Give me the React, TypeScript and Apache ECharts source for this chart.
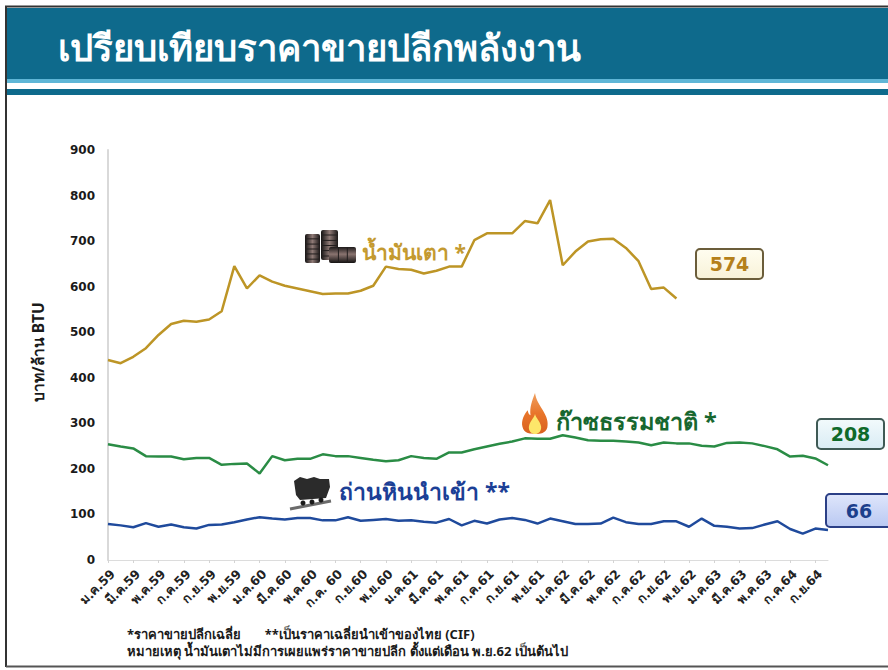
import React, { useEffect, useRef } from "react";
import * as echarts from "echarts";

const categories = [
  "ม.ค.59","ก.พ.59","มี.ค.59","เม.ย.59","พ.ค.59","มิ.ย.59","ก.ค.59","ส.ค.59","ก.ย.59","ต.ค.59","พ.ย.59","ธ.ค.59",
  "ม.ค.60","ก.พ.60","มี.ค.60","เม.ย.60","พ.ค.60","มิ.ย.60","ก.ค. 60","ส.ค.60","ก.ย.60","ต.ค.60","พ.ย.60","ธ.ค.60",
  "ม.ค.61","ก.พ.61","มี.ค.61","เม.ย.61","พ.ค.61","มิ.ย.61","ก.ค.61","ส.ค.61","ก.ย.61","ต.ค.61","พ.ย.61","ธ.ค.61",
  "ม.ค.62","ก.พ.62","มี.ค.62","เม.ย.62","พ.ค.62","มิ.ย.62","ก.ค.62","ส.ค.62","ก.ย.62","ต.ค.62","พ.ย.62","ธ.ค.62",
  "ม.ค.63","ก.พ.63","มี.ค.63","เม.ย.63","พ.ค.63","มิ.ย.63","ก.ค.64","ส.ค.64","ก.ย.64","ต.ค.64",
];
const oil = [
  439,432,446,465,494,518,525,523,528,546,645,596,625,611,602,596,590,584,585,585,591,602,644,639,637,629,635,644,644,702,
  717,717,717,744,739,790,647,677,699,704,705,685,656,595,598,574,
];
const gas = [
  254,249,245,228,227,227,221,224,224,209,211,212,190,228,219,222,222,232,228,228,224,220,217,219,228,224,222,236,236,243,
  249,255,260,267,266,266,274,269,263,262,262,260,258,252,258,256,256,251,249,257,258,256,250,243,227,229,223,208,
];
const coal = [
  79,76,72,81,73,78,72,69,77,78,83,89,94,91,89,92,92,87,87,94,86,88,90,86,87,84,82,90,76,86,
  80,89,92,88,80,91,85,79,79,80,93,83,79,79,85,85,73,91,75,73,69,70,78,85,68,58,69,66,
];
const yTicks = { min: 0, max: 900, interval: 100 };
const seriesNames = ["น้ำมันเตา", "ก๊าซธรรมชาติ", "ถ่านหินนำเข้า"];
const titleText = "เปรียบเทียบราคาขายปลีกพลังงาน";
const yName = "บาท/ล้าน BTU";
const note1 = "*ราคาขายปลีกเฉลี่ย       **เป็นราคาเฉลี่ยนำเข้าของไทย (CIF)";
const note2 = "หมายเหตุ น้ำมันเตาไม่มีการเผยแพร่ราคาขายปลีก ตั้งแต่เดือน พ.ย.62 เป็นต้นไป";

const FONT = '"Noto Sans", "DejaVu Sans", sans-serif';
const NUMFONT = '"DejaVu Sans", "Noto Sans", sans-serif';

echarts.graphic.registerShape(
  "flameIcon",
  echarts.graphic.extendPath(
    "M50 0 C54 18 66 28 78 42 C92 58 98 70 94 84 C88 98 70 100 50 100 C30 100 10 98 5 82 C0 66 12 52 24 42 C26 50 30 54 34 54 C30 36 40 18 50 0 Z",
    {}
  )
);
echarts.graphic.registerShape(
  "flameInner",
  echarts.graphic.extendPath(
    "M50 0 C56 20 82 36 88 62 C92 84 72 100 50 100 C28 100 8 84 12 62 C18 36 44 20 50 0 Z",
    {}
  )
);

function barrel(x: number, y: number, w: number, h: number, horizontal = false) {
  const grad = horizontal
    ? new echarts.graphic.LinearGradient(0, 0, 0, 1, [
        { offset: 0, color: "#1d1a1a" },
        { offset: 0.45, color: "#8a7470" },
        { offset: 1, color: "#141212" },
      ])
    : new echarts.graphic.LinearGradient(0, 0, 1, 0, [
        { offset: 0, color: "#141212" },
        { offset: 0.5, color: "#8f7a76" },
        { offset: 1, color: "#1a1717" },
      ]);
  const ribs = horizontal
    ? [0.33, 0.66].map((f) => ({
        type: "rect",
        shape: { x: x + w * f, y, width: 1, height: h },
        style: { fill: "#221e1e" },
      }))
    : [0.15, 0.33, 0.5, 0.67, 0.85].map((f) => ({
        type: "rect",
        shape: { x, y: y + h * f, width: w, height: 1 },
        style: { fill: "#221e1e" },
      }));
  return [
    { type: "rect", shape: { x, y, width: w, height: h, r: 2 }, style: { fill: grad } },
    ...ribs,
  ];
}

function badge(x: number, y: number, w: number, h: number, label: string, fillTop: string, fillBottom: string, stroke: string, color: string) {
  return [
    {
      type: "rect",
      shape: { x, y, width: w, height: h, r: 4 },
      style: {
        fill: new echarts.graphic.LinearGradient(0, 0, 0, 1, [
          { offset: 0, color: fillTop },
          { offset: 1, color: fillBottom },
        ]),
        stroke,
        lineWidth: 2,
      },
    },
    {
      type: "text",
      x: x + w / 2,
      y: y + h / 2,
      style: {
        text: label,
        fill: color,
        font: `bold 19px ${NUMFONT}`,
        align: "center",
        verticalAlign: "middle",
      },
    },
  ];
}

export default function App() {
  const ref = useRef<HTMLDivElement>(null);
  useEffect(() => {
    const chart = echarts.init(ref.current!, undefined, { renderer: "svg" });
    const lineCommon = { type: "line", showSymbol: false, symbol: "none", smooth: false, z: 3 };
    chart.setOption({
      animation: false,
      backgroundColor: "#ffffff",
      grid: { left: 108, right: 888 - 828, top: 150, bottom: 670 - 560, containLabel: false },
      xAxis: {
        type: "category",
        data: categories,
        boundaryGap: false,
        axisLine: { lineStyle: { color: "#dcdcdc", width: 1 } },
        axisTick: { interval: 1, length: 3, lineStyle: { color: "#d4d4d4" } },
        axisLabel: {
          interval: 1,
          rotate: 45,
          color: "#222222",
          fontFamily: NUMFONT,
          fontWeight: "bold",
          fontSize: 12.5,
          margin: 7,
          verticalAlign: "top",
        },
      },
      yAxis: {
        type: "value",
        ...yTicks,
        splitLine: { show: false },
        axisLine: { show: true, lineStyle: { color: "#d9d9d9", width: 2 } },
        axisTick: { show: false },
        axisLabel: {
          color: "#1a1a1a",
          fontFamily: NUMFONT,
          fontWeight: "bold",
          fontSize: 12,
          margin: 13,
        },
      },
      series: [
        { ...lineCommon, name: seriesNames[0], data: oil, lineStyle: { color: "#bd9526", width: 2.5 } },
        { ...lineCommon, name: seriesNames[1], data: gas, lineStyle: { color: "#2a8c45", width: 2.5 } },
        { ...lineCommon, name: seriesNames[2], data: coal, lineStyle: { color: "#1f4a9c", width: 2.5 } },
      ],
      graphic: [
        // frame
        { type: "line", shape: { x1: 6, y1: 6, x2: 6, y2: 667 }, style: { stroke: "#333333", lineWidth: 2 } },
        { type: "line", shape: { x1: 6, y1: 666.5, x2: 888, y2: 666.5 }, style: { stroke: "#555555", lineWidth: 2 } },
        { type: "line", shape: { x1: 5, y1: 6.5, x2: 888, y2: 6.5 }, style: { stroke: "#333333", lineWidth: 2 } },
        // header
        { type: "rect", shape: { x: 7, y: 8, width: 881, height: 71 }, style: { fill: "#0e6a8c" } },
        { type: "rect", shape: { x: 7, y: 79, width: 881, height: 4 }, style: { fill: "#5fb6d6" } },
        { type: "rect", shape: { x: 7, y: 85, width: 881, height: 4 }, style: { fill: "#ffffff" } },
        { type: "rect", shape: { x: 7, y: 89, width: 881, height: 6 }, style: { fill: "#0e6a8c" } },
        {
          type: "text",
          x: 58,
          y: 47,
          style: { text: titleText, fill: "#ffffff", font: `bold 36.5px ${FONT}`, align: "left", verticalAlign: "middle" },
        },
        // y-axis name
        {
          type: "text",
          x: 38,
          y: 352,
          rotation: Math.PI / 2,
          style: { text: yName, fill: "#1a1a1a", font: `bold 15.5px ${FONT}`, align: "center", verticalAlign: "middle" },
        },
        // oil icon
        ...barrel(305, 234, 15, 29),
        ...barrel(321, 230, 17, 30),
        ...barrel(329, 247, 27, 16, true),
        {
          type: "text",
          x: 362,
          y: 252,
          style: { text: seriesNames[0] + " *", fill: "#c49a30", font: `bold 21px ${FONT}`, align: "left", verticalAlign: "middle" },
        },
        // gas icon
        {
          type: "flameIcon",
          x: 521,
          y: 393,
          scaleX: 0.28,
          scaleY: 0.41,
          style: {
            fill: new echarts.graphic.LinearGradient(0, 0, 0, 1, [
              { offset: 0, color: "#f0a060" },
              { offset: 0.5, color: "#e8752a" },
              { offset: 1, color: "#d9601f" },
            ]),
          },
        },
        { type: "flameInner", x: 527, y: 414, scaleX: 0.16, scaleY: 0.2, style: { fill: "#fde66a" } },
        {
          type: "text",
          x: 556,
          y: 421,
          style: { text: seriesNames[1] + " *", fill: "#17672f", font: `bold 23.5px ${FONT}`, align: "left", verticalAlign: "middle" },
        },
        // coal icon
        { type: "line", shape: { x1: 290, y1: 509, x2: 331, y2: 501 }, style: { stroke: "#6b6b6b", lineWidth: 3 } },
        { type: "polygon", shape: { points: [[294, 481], [300, 477], [307, 479], [314, 477], [320, 479], [329, 479], [330, 487], [326, 498], [300, 500], [296, 495]] }, style: { fill: "#2b2b2b" } },
        { type: "circle", shape: { cx: 303, cy: 503, r: 2.5 }, style: { fill: "#1a1a1a" } },
        { type: "circle", shape: { cx: 312, cy: 502, r: 2.5 }, style: { fill: "#1a1a1a" } },
        { type: "circle", shape: { cx: 321, cy: 500, r: 2.5 }, style: { fill: "#1a1a1a" } },
        {
          type: "text",
          x: 339,
          y: 491,
          style: { text: seriesNames[2] + " **", fill: "#1c3f96", font: `bold 23px ${FONT}`, align: "left", verticalAlign: "middle" },
        },
        // badges
        ...badge(696, 249, 67, 30, "574", "#fffdf0", "#f8f2d8", "#6b5d3a", "#b5801a"),
        ...badge(817, 419, 67, 30, "208", "#f2fafc", "#d9ecf4", "#3f5a55", "#0f6a2a"),
        ...badge(826, 494, 66, 33, "66", "#dfe6fb", "#b9c8f2", "#2b3f86", "#1c3f8c"),
        // notes
        {
          type: "text",
          x: 127,
          y: 634,
          style: { text: note1, fill: "#1a1a1a", font: `bold 13px ${FONT}`, align: "left", verticalAlign: "middle" },
        },
        {
          type: "text",
          x: 127,
          y: 651,
          style: { text: note2, fill: "#1a1a1a", font: `bold 13px ${FONT}`, align: "left", verticalAlign: "middle" },
        },
      ],
    });
    return () => chart.dispose();
  }, []);
  return <div ref={ref} style={{ position: "absolute", left: 0, top: 0, width: 888, height: 670 }} />;
}
